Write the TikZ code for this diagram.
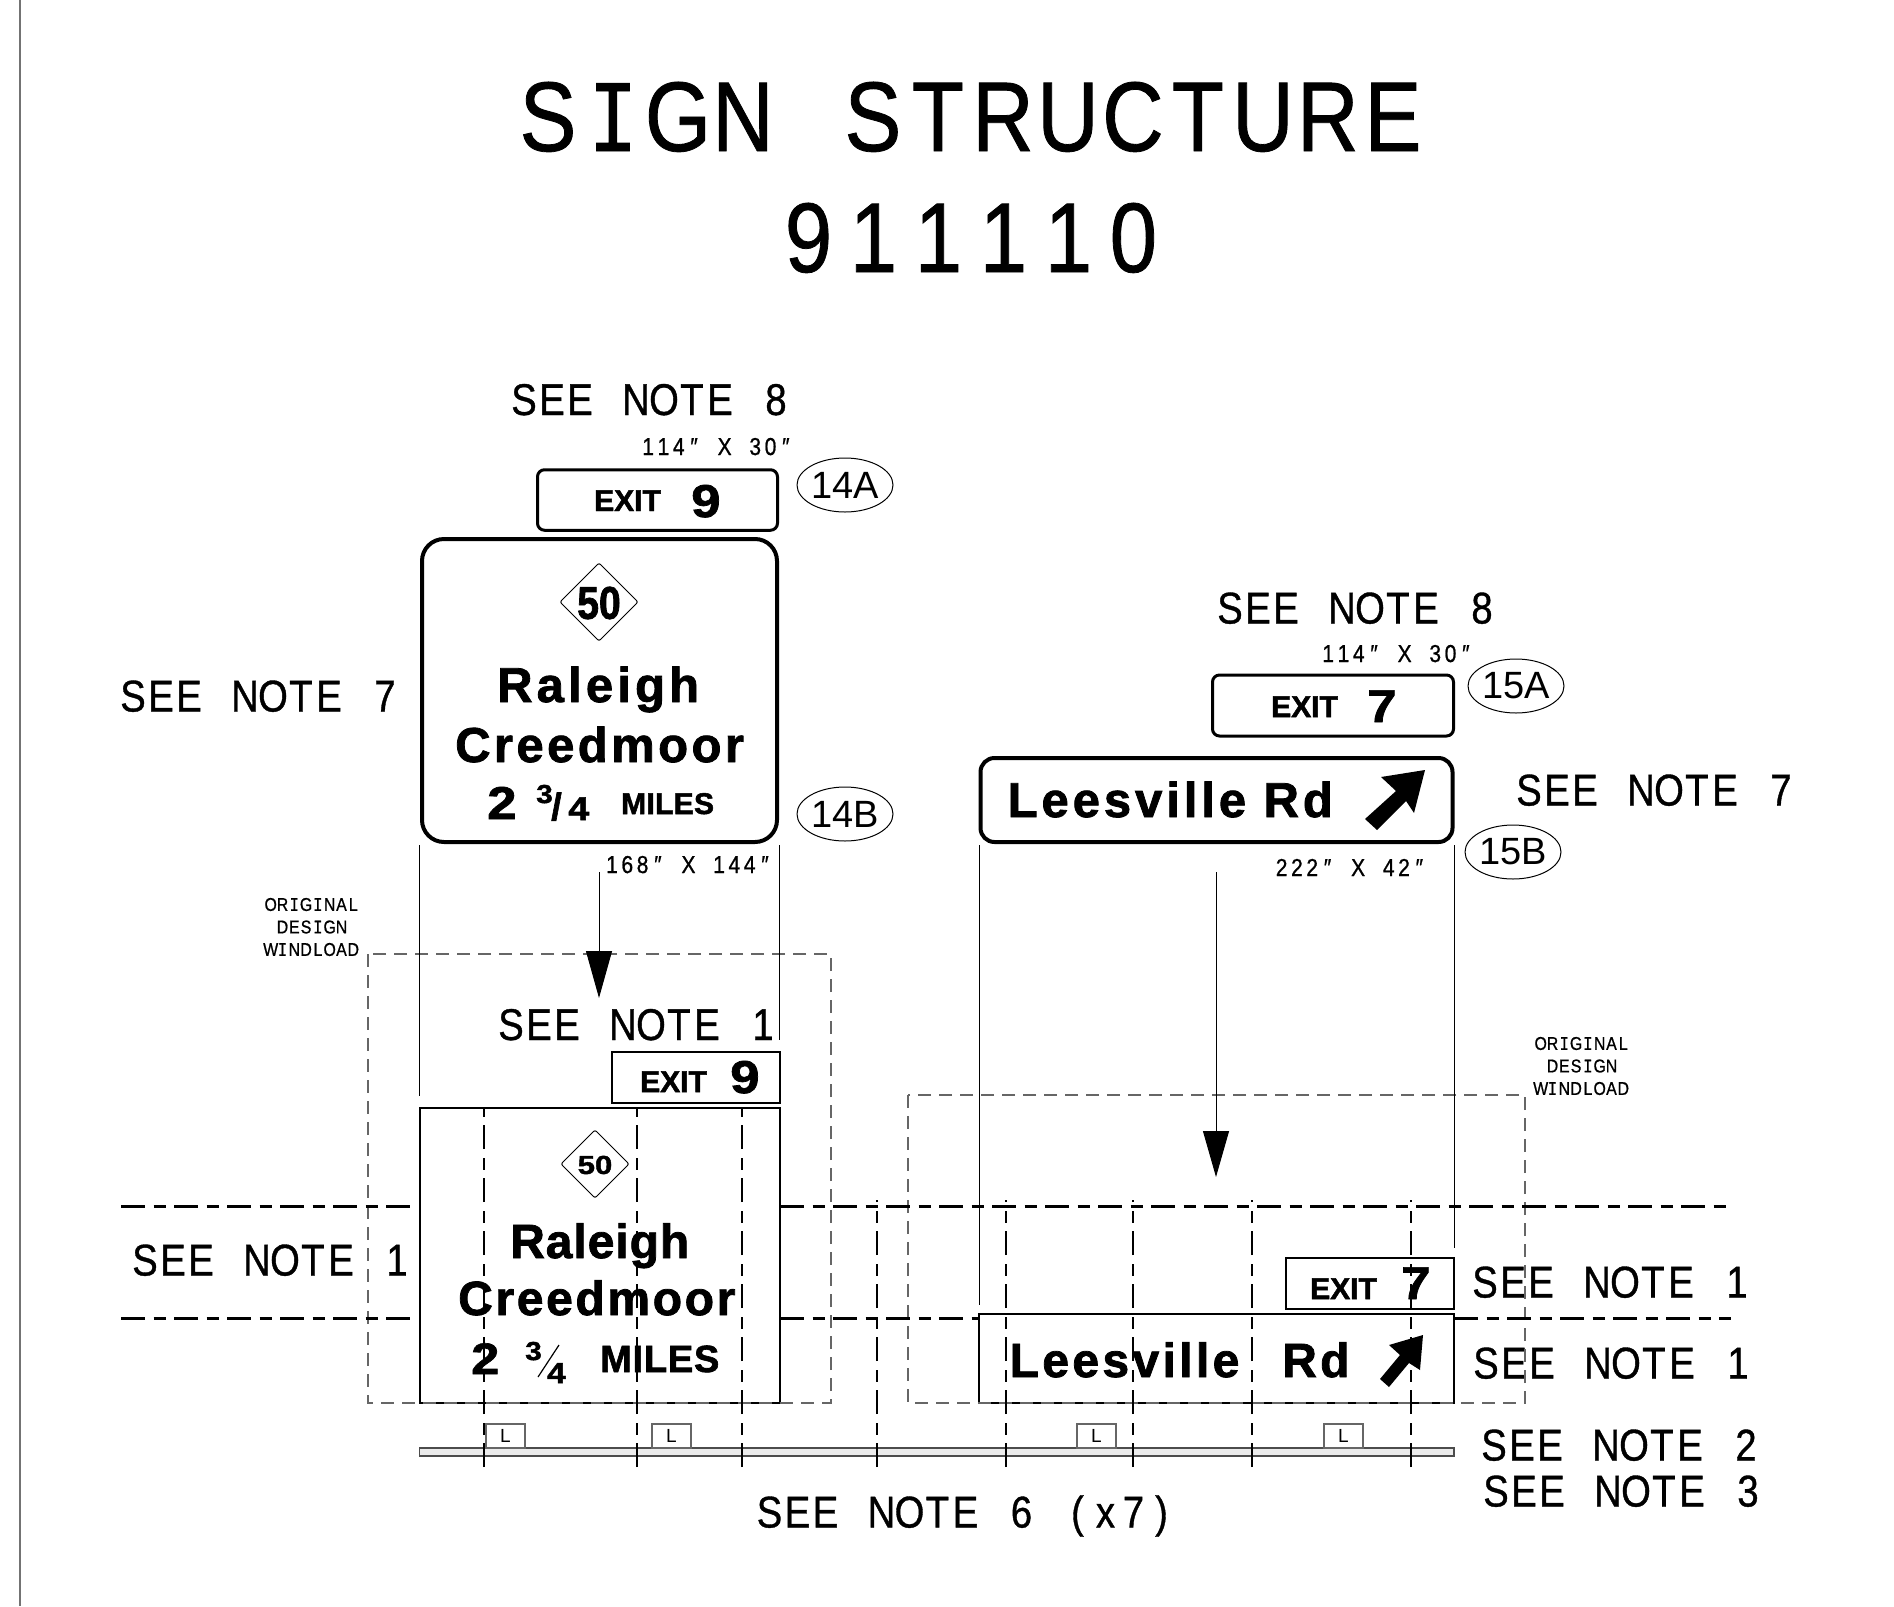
\documentclass[tikz,border=0pt]{standalone}
\usepackage{fontspec}
\usetikzlibrary{arrows.meta,shapes.geometric}
\newfontfamily\cadfont[FakeStretch=0.86,FakeBold=0.8]{Liberation Sans}
\newfontfamily\slabfont[Scale=1.04,FakeStretch=0.8,FakeBold=0.8]{Liberation Mono}
\newfontfamily\bubblefont{Liberation Sans}
\newfontfamily\panelfont[FakeBold=1.6]{Liberation Sans Bold}
\newlength\fixedadv
\ExplSyntaxOn
\NewDocumentCommand\pitched{m}{
  \leavevmode
  \str_map_inline:nn{#1}{\hbox_to_wd:nn{\fixedadv}{\hss\str_if_eq:nnTF{##1}{I}{{\slabfont I}}{##1}\hss}}
}
\ExplSyntaxOff
\tikzset{
  titletext/.style={anchor=base,inner sep=0pt,font=\cadfont\fontsize{99}{99}\selectfont\setlength\fixedadv{65pt}},
  notetext/.style={anchor=base,inner sep=0pt,font=\cadfont\fontsize{44.5}{44.5}\selectfont\setlength\fixedadv{28pt}},
  sizetext/.style={anchor=base,inner sep=0pt,font=\cadfont\fontsize{24.5}{24.5}\selectfont\setlength\fixedadv{15.3pt}},
  loadtext/.style={anchor=center,inner sep=0pt,align=center,font=\cadfont\fontsize{18.5}{22.5}\selectfont\setlength\fixedadv{11.8pt}},
  panel/.style 2 args={anchor=base west,inner sep=0pt,font=\panelfont\addfontfeature{LetterSpace=#2}\fontsize{#1}{#1}\selectfont},
  numeral/.style={anchor=base west,inner sep=0pt,font=\panelfont\addfontfeature{FakeStretch=1.15}\fontsize{#1}{#1}\selectfont},
  bubble/.style={draw,ellipse,line width=1pt,inner sep=0pt,minimum width=96pt,minimum height=54pt,font=\bubblefont\fontsize{38}{38}\selectfont},
  signround/.style={draw,rounded corners=#1,inner sep=0pt,outer sep=0pt},
  signflat/.style={draw,line width=2pt,inner sep=0pt,outer sep=0pt},
  shield/.style={draw,diamond,rounded corners=2pt,aspect=1,line width=1pt,inner sep=0pt,outer sep=0pt},
  lightbox/.style={draw=black!60,line width=1.4pt,inner sep=0pt,minimum width=39pt,minimum height=24pt,font=\bubblefont\fontsize{19}{19}\selectfont},
  guide/.style={line width=1pt},
  windload/.style={draw=black!60,line width=1.1pt,dash pattern=on 13pt off 8pt},
  cutline/.style={line width=3pt,dash pattern=on 24pt off 8.5pt on 12pt off 8.5pt},
  post/.style={line width=2.6pt,dash pattern=on 24pt off 8.5pt on 12pt off 8.5pt}
}
\begin{document}
\begin{tikzpicture}[x=1pt,y=-1pt]
  \useasboundingbox (0,0) rectangle (1894,1606);
  \draw[black!55,line width=1.4pt] (20,0) -- (20,1606);
  \draw
    (970.5,151) node[titletext] (title1){\pitched{SIGN STRUCTURE}}
    (971,272) node[titletext] (title2){\pitched{911110}}
    (650,415) node[notetext] (note8a){\pitched{SEE NOTE 8}}
    (1356,623.5) node[notetext] (note8b){\pitched{SEE NOTE 8}}
    (259,711.5) node[notetext] (note7a){\pitched{SEE NOTE 7}}
    (1655,805.5) node[notetext] (note7b){\pitched{SEE NOTE 7}}
    (637,1040) node[notetext] (note1a){\pitched{SEE NOTE 1}}
    (271,1275.5) node[notetext] (note1b){\pitched{SEE NOTE 1}}
    (1611,1297.5) node[notetext] (note1c){\pitched{SEE NOTE 1}}
    (1612,1378.5) node[notetext] (note1d){\pitched{SEE NOTE 1}}
    (1620,1460.5) node[notetext] (note2){\pitched{SEE NOTE 2}}
    (1622,1506.5) node[notetext] (note3){\pitched{SEE NOTE 3}}
    (965.5,1527.5) node[notetext] (note6){\pitched{SEE NOTE 6 (x7)}}
    (717,455) node[sizetext] (size14a){\pitched{114″ X 30″}}
    (688.5,873) node[sizetext] (size14b){\pitched{168″ X 144″}}
    (1397,662) node[sizetext] (size15a){\pitched{114″ X 30″}}
    (1350.5,876) node[sizetext] (size15b){\pitched{222″ X 42″}}
    (312,927) node[loadtext] (load14){\pitched{ORIGINAL}\\\pitched{DESIGN}\\\pitched{WINDLOAD}}
    (1582,1066) node[loadtext] (load15){\pitched{ORIGINAL}\\\pitched{DESIGN}\\\pitched{WINDLOAD}}
    (845,485) node[bubble] (tag14a){14A}
    (845,814) node[bubble] (tag14b){14B}
    (1516,686) node[bubble] (tag15a){15A}
    (1513,852) node[bubble] (tag15b){15B};
  % proposed signs
  \node[signround=7pt,line width=3pt,minimum width=240pt,minimum height=60.5pt] (sign14a) at (657.5,500) {};
  \node[signround=22pt,line width=4pt,minimum width=355pt,minimum height=303pt] (sign14b) at (599.5,690.5) {};
  \node[signround=7pt,line width=3pt,minimum width=241pt,minimum height=61pt] (sign15a) at (1333,705.5) {};
  \node[signround=14pt,line width=4pt,minimum width=472pt,minimum height=84pt] (sign15b) at (1216.5,800) {};
  \node[shield,minimum size=78pt] (shield14) at (599,602) {};
  \node[anchor=center,inner sep=0pt,font=\panelfont\addfontfeature{FakeStretch=0.85}\fontsize{46}{46}\selectfont] (route14) at (599,603) {50};
  \draw
    (594,511) node[panel={30}{0}] (exit14){EXIT}
    (691,517) node[numeral=46] (num14){9}
    (497,702) node[panel={49}{8.5}] (name14a){Raleigh}
    (455,762) node[panel={49}{7}] (name14b){Creedmoor}
    (487,819) node[numeral=46] (dist14){2}
    (536,803) node[numeral=26] (frac14a){3}
    (551,820) node[panel={38}{0}] (frac14s){/}
    (568,820) node[numeral=33] (frac14b){4}
    (621,814) node[panel={30}{1}] (miles14){MILES}
    (1271,717) node[panel={30}{0}] (exit15){EXIT}
    (1367,722) node[numeral=46] (num15){7}
    (1007.5,817) node[panel={49}{8}] (name15){Leesville Rd};
  \fill (1425,770) -- (1381,777) -- (1396,791) -- (1365,819) -- (1377,830) -- (1406,801) -- (1414,813) -- cycle;
  % existing signs
  \node[signflat,minimum width=360pt,minimum height=295pt] (old14b) at (599.5,1255.5) {};
  \node[signflat,minimum width=168pt,minimum height=51pt] (old14a) at (696,1077.5) {};
  \node[signflat,minimum width=475pt,minimum height=89pt] (old15b) at (1216.5,1358.5) {};
  \node[signflat,minimum width=168pt,minimum height=51pt] (old15a) at (1370,1283.5) {};
  \node[shield,minimum size=68pt] (shield14old) at (595,1164) {};
  \node[anchor=center,inner sep=0pt,font=\panelfont\addfontfeature{FakeStretch=1.2}\fontsize{26}{26}\selectfont] (route14old) at (595,1165) {50};
  \draw
    (640,1092) node[panel={30}{0}] (exit14old){EXIT}
    (730,1093) node[numeral=46] (num14old){9}
    (510,1258) node[panel={48}{2}] (name14aold){Raleigh}
    (458,1315) node[panel={48}{5.5}] (name14bold){Creedmoor}
    (471,1374) node[numeral=44] (dist14old){2}
    (525,1360) node[numeral=26] (frac14aold){3}
    (547,1383) node[numeral=29] (frac14bold){4}
    (600,1372) node[panel={38}{2}] (miles14old){MILES}
    (1310,1299) node[panel={30}{0}] (exit15old){EXIT}
    (1401,1299) node[numeral=46] (num15old){7}
    (1009.5,1377) node[panel={48}{7}] (name15old){Leesville}
    (1282,1377) node[panel={48}{7}] (road15old){Rd};
  \draw[line width=1.2pt] (559,1345) -- (538,1377);
  \fill (1423,1335) -- (1389,1345) -- (1400,1355) -- (1380,1379) -- (1389,1387) -- (1409,1363) -- (1420,1370) -- cycle;
  % window load outlines
  \draw[windload] (368,954) rectangle (831,1403);
  \draw[windload] (908,1095) rectangle (1525,1403);
  % bridge
  \draw[black!70,line width=1.5pt,fill=black!8] (419.5,1448) rectangle (1454,1456);
  \node[lightbox] (lamp1) at (505.5,1436) {L};
  \node[lightbox] (lamp2) at (671.5,1436) {L};
  \node[lightbox] (lamp3) at (1096.5,1436) {L};
  \node[lightbox] (lamp4) at (1343.5,1436) {L};
  % guide lines
  \coordinate (g1) at (419.5,845);
  \coordinate (g2) at (419.5,1096);
  \coordinate (g3) at (779.5,845);
  \coordinate (g4) at (779.5,1040);
  \coordinate (g5) at (979,845);
  \coordinate (g6) at (979,1305);
  \coordinate (g7) at (1454,845);
  \coordinate (g8) at (1454,1248);
  \coordinate (a1) at (599,872);
  \coordinate (a2) at (599,998);
  \coordinate (a3) at (1216,872);
  \coordinate (a4) at (1216,1177);
  \begin{scope}[guide]
    \draw (g1) to (g2);
    \draw (g3) to (g4);
    \draw (g5) to (g6);
    \draw (g7) to (g8);
    \draw[-{Triangle[length=47pt,width=26pt]}] (a1) to (a2);
    \draw[-{Triangle[length=46pt,width=26pt]}] (a3) to (a4);
  \end{scope}
  % cut lines
  \coordinate (c1) at (121,1206);
  \coordinate (c2) at (411,1206);
  \coordinate (c3) at (780,1206);
  \coordinate (c4) at (1728,1206);
  \coordinate (c5) at (121,1318);
  \coordinate (c6) at (411,1318);
  \coordinate (c7) at (780,1318);
  \coordinate (c8) at (978,1318);
  \coordinate (c9) at (1454,1318);
  \coordinate (c10) at (1731,1318);
  \begin{scope}[cutline]
    \draw (c1) to (c2);
    \draw (c3) to (c4);
    \draw (c5) to (c6);
    \draw (c7) to (c8);
    \draw (c9) to (c10);
  \end{scope}
  % posts
  \foreach \px/\pt in {484/1108,637/1108,742/1108,877/1200,1006/1200,1133/1200,1252/1200,1411/1200}{
    \coordinate (pt\px) at (\px,\pt);
    \coordinate (pb\px) at (\px,1467);
    \draw[post] (pb\px) to (pt\px);
  }
\end{tikzpicture}
\end{document}
